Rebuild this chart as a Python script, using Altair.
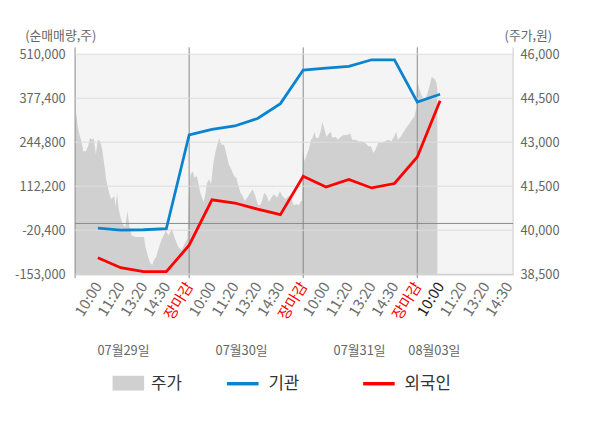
import json
import altair as alt
import pandas as pd

FONT = "Noto Sans CJK KR"

# ---------------- data ----------------
tick_labels = ['10:00', '11:20', '13:20', '14:30', '장마감',
               '10:00', '11:20', '13:20', '14:30', '장마감',
               '10:00', '11:20', '13:20', '14:30', '장마감',
               '10:00', '11:20', '13:20', '14:30']
tick_slots = list(range(1, 20))
day_names = ['07월29일', '07월30일', '07월31일', '08월03일']
day_label_slot = [2.12, 7.3, 12.47, 15.75]
day_bounds = [0, 5, 10, 15]

left_ticks = [-153000, -20400, 112200, 244800, 377400, 510000]
right_ticks = [38500, 40000, 41500, 43000, 44500, 46000]

flow_slot = list(range(1, 17))
inst = [-14200, -20200, -19000, -16000, 267000,
        283600, 293800, 316400, 361100, 462400,
        468300, 473400, 493300, 493300, 366100,
        389400]
foreign = [-103600, -133300, -145300, -145300, -65700,
           71300, 61500, 43000, 26600, 141900,
           110000, 132900, 107000, 120400, 200300,
           369700]

price_slot = [
    0.00, 0.07, 0.10, 0.19, 0.28, 0.36, 0.47, 0.57, 0.65, 0.76,
    0.82, 0.91, 1.00, 1.10, 1.19, 1.29, 1.36, 1.44, 1.51, 1.58,
    1.65, 1.72, 1.77, 1.84, 1.91, 2.01, 2.08, 2.20, 2.30, 2.37,
    2.48, 2.66, 3.02, 3.09, 3.20, 3.30, 3.38, 3.45, 3.55, 3.66,
    3.78, 3.88, 3.98, 4.09, 4.24, 4.38, 4.53, 4.67, 4.81, 4.93,
    4.98, 5.06, 5.16, 5.24, 5.34, 5.41, 5.49, 5.63, 5.70, 5.78,
    5.88, 5.96, 6.06, 6.16, 6.25, 6.32, 6.42, 6.53, 6.64, 6.74,
    6.85, 6.97, 7.07, 7.14, 7.25, 7.35, 7.43, 7.54, 7.64, 7.78,
    7.90, 8.03, 8.15, 8.29, 8.41, 8.50, 8.60, 8.72, 8.86, 8.98,
    9.08, 9.22, 9.37, 9.47, 9.58, 9.70, 9.80, 9.90, 9.95,
    9.98, 10.06, 10.13, 10.24, 10.34, 10.41, 10.49, 10.56, 10.67, 10.78,
    10.84, 10.92, 11.02, 11.13, 11.21, 11.28, 11.42, 11.53, 11.64, 11.78,
    11.92, 12.07, 12.14, 12.28, 12.43, 12.57, 12.72, 12.86, 12.97, 13.07,
    13.17, 13.29, 13.43, 13.58, 13.72, 13.86, 13.98, 14.08, 14.15, 14.27,
    14.41, 14.55, 14.66, 14.75, 14.87, 14.96,
    14.98, 15.02, 15.09, 15.18, 15.27, 15.36, 15.44, 15.53, 15.63, 15.75,
    15.83, 15.88]
price = [
    43700, 44000, 43640, 43250, 43030, 42690, 42690, 42860, 43140, 43080,
    43140, 42580, 43080, 43030, 42750, 42180, 41740, 41450, 41230, 41060,
    41110, 41170, 40780, 41280, 40720, 40390, 40220, 40100, 40670, 40160,
    39820, 39770, 39770, 39430, 39090, 38870, 38810, 38980, 39090, 39380,
    39660, 39820, 39990, 39820, 40050, 39710, 39430, 39320, 39550, 39710,
    41170, 41900, 42010, 41790, 41850, 41570, 41280, 40950, 41170, 41620,
    41740, 41570, 42290, 42690, 42970, 43140, 42910, 42910, 42580, 42240,
    42070, 41850, 41790, 41570, 41280, 41170, 41000, 41110, 41230, 41400,
    41170, 40840, 40890, 41280, 41170, 40950, 41110, 41230, 41110, 41340,
    41170, 41060, 41170, 41110, 40840, 40890, 40840, 41000, 41000,
    42690, 42350, 42520, 42750, 43080, 43140, 43360, 43140, 43140, 43420,
    43700, 43470, 43190, 43300, 43360, 43140, 43190, 43080, 43190, 43250,
    43250, 43300, 43080, 43080, 43030, 43030, 42970, 42860, 42860, 42630,
    42750, 42970, 42970, 43030, 43080, 43030, 43190, 43360, 43080, 43190,
    43360, 43530, 43640, 43760, 43870, 44150,
    44880, 45050, 44820, 44610, 44480, 44480, 44650, 44880, 45220, 45160,
    45050, 44820]

series_names = ['기관', '외국인']
series_colors = ['#0a83d0', '#ff0000']
price_name = '주가'
price_color = '#d0d0d0'

# ---------------- tables ----------------
price_df = pd.DataFrame({'slot': price_slot, 'price': price})
flow_df = pd.concat([
    pd.DataFrame({'slot': flow_slot, 'value': inst, 'series': series_names[0]}),
    pd.DataFrame({'slot': flow_slot, 'value': foreign, 'series': series_names[1]}),
])
grid_df = pd.DataFrame({'v': left_ticks})
zero_df = pd.DataFrame({'v': [0]})
sep_df = pd.DataFrame({'slot': day_bounds})
day_df = pd.DataFrame({'slot': day_label_slot, 'name': day_names})

W, H = 444, 223
GRAY = '#666666'

x_scale = alt.Scale(domain=[0, 19.2], nice=False, zero=False)
x_axis = alt.Axis(
    values=tick_slots,
    labelExpr=json.dumps(tick_labels, ensure_ascii=False) + "[round(datum.value) - 1]",
    labelAngle=302, labelAlign='right', labelBaseline='middle', labelPadding=9,
    labelFontSize=15, labelFont=FONT,
    labelColor={"condition": [{"test": "datum.value % 5 == 0", "value": "#ff0000"},
                              {"test": "datum.value == 16", "value": "#222222"}],
                "value": '#6e6e6e'},
    ticks=False, grid=False, domainColor='#999999', domainWidth=1,
    labelOverlap=False, labelFlush=False, labelBound=False, title=None)


def X(field='slot:Q'):
    return alt.X(field, scale=x_scale, axis=x_axis)


left_scale = alt.Scale(domain=[left_ticks[0], left_ticks[-1]], nice=False, zero=False)
left_axis = alt.Axis(
    orient='left', values=left_ticks,
    labelExpr="replace(format(datum.value, ','), '\u2212', '-')",
    labelFontSize=13, labelFont=FONT, labelColor=GRAY, labelPadding=10,
    ticks=False, grid=False, domain=False,
    title='(순매매량,주)', titleAngle=0, titleX=-15, titleY=-19,
    titleAlign='center', titleBaseline='middle', titleFontSize=13,
    titleFont=FONT, titleFontWeight='normal', titleColor=GRAY)

right_scale = alt.Scale(domain=[right_ticks[0], right_ticks[-1]], nice=False, zero=False)
right_axis = alt.Axis(
    orient='right', values=right_ticks,
    labelExpr="format(datum.value, ',')",
    labelFontSize=13, labelFont=FONT, labelColor=GRAY, labelPadding=7,
    ticks=False, grid=False, domain=False,
    title='(주가,원)', titleAngle=0, titleX=15, titleY=-19,
    titleAlign='center', titleBaseline='middle', titleFontSize=13,
    titleFont=FONT, titleFontWeight='normal', titleColor=GRAY)

# ---------------- layers ----------------
area = alt.Chart(price_df).mark_area(color=price_color).encode(
    x=X(),
    y=alt.Y('price:Q', scale=right_scale, axis=right_axis),
    y2=alt.datum(right_ticks[0]),
)

seps = alt.Chart(sep_df).mark_rule(color='#888888', strokeWidth=1).encode(
    x=X(), y=alt.value(-7), y2=alt.value(H + 4))

border = alt.Chart(pd.DataFrame({'k': [1]})).mark_rule(color='#cccccc', strokeWidth=1).encode(
    x=alt.value(W), y=alt.value(-7), y2=alt.value(H))

grid = alt.Chart(grid_df).mark_rule(color='#dcdcdc', strokeWidth=1).encode(
    y=alt.Y('v:Q', scale=left_scale, axis=left_axis))
zero = alt.Chart(zero_df).mark_rule(color='#888888', strokeWidth=1).encode(
    y=alt.Y('v:Q', scale=left_scale, axis=left_axis))
lines = alt.Chart(flow_df).mark_line(strokeWidth=2.8).encode(
    x=X(),
    y=alt.Y('value:Q', scale=left_scale, axis=left_axis),
    color=alt.Color('series:N', scale=alt.Scale(domain=series_names, range=series_colors), legend=None),
    order=alt.Order('slot:Q'),
)
inner = alt.layer(grid, zero, lines)

days = alt.Chart(day_df).mark_text(font=FONT, fontSize=13, color=GRAY, align='center', baseline='middle').encode(
    x=X(), y=alt.value(301), text='name:N')

LEG_Y = 334
leg_rect = alt.Chart(pd.DataFrame({'k': [1]})).mark_rect(color=price_color).encode(
    x=alt.value(38), x2=alt.value(70), y=alt.value(LEG_Y - 8), y2=alt.value(LEG_Y + 7))
leg_blue = alt.Chart(pd.DataFrame({'k': [1]})).mark_rule(color=series_colors[0], strokeWidth=3.5).encode(
    x=alt.value(154), x2=alt.value(186), y=alt.value(LEG_Y))
leg_red = alt.Chart(pd.DataFrame({'k': [1]})).mark_rule(color=series_colors[1], strokeWidth=3.5).encode(
    x=alt.value(292), x2=alt.value(324), y=alt.value(LEG_Y))


def leg_text(t, xpos):
    return alt.Chart(pd.DataFrame({'t': [t]})).mark_text(
        font=FONT, fontSize=17, color='#333333', align='left', baseline='middle').encode(
        x=alt.value(xpos), y=alt.value(LEG_Y), text='t:N')


chart = alt.layer(
    area, seps, border, inner, days,
    leg_rect, leg_blue, leg_red,
    leg_text(price_name, 77), leg_text(series_names[0], 196), leg_text(series_names[1], 334),
).resolve_scale(y='independent').properties(
    width=W, height=H,
    autosize=alt.AutoSizeParams(type='none'),
    padding={'left': 68, 'top': 44, 'right': 80, 'bottom': 150},
).configure_view(stroke=None, fill='#f4f4f4')

chart.save("out.html", embed_options={"renderer": "svg", "actions": False})
